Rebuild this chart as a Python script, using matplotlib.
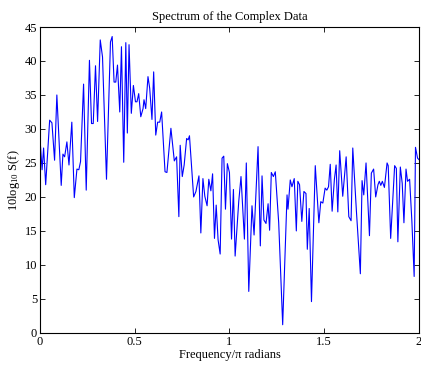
# Spectrum of complex data, MATLAB-style line plot

import matplotlib
matplotlib.use('Agg')
import matplotlib.pyplot as plt
import numpy as np

# values (frequency in units of pi, power in dB)
freq = [0.000, 0.011, 0.019, 0.030, 0.051, 0.063, 0.077, 0.089, 0.112, 0.121,
        0.130, 0.142, 0.153, 0.168, 0.181, 0.195, 0.205, 0.214, 0.230, 0.244,
        0.261, 0.272, 0.281, 0.293, 0.304, 0.318, 0.330, 0.351, 0.372, 0.381,
        0.391, 0.400, 0.409, 0.421, 0.430, 0.442, 0.453, 0.461, 0.470, 0.482,
        0.493, 0.504, 0.512, 0.521, 0.532, 0.544, 0.549, 0.558, 0.570, 0.579,
        0.591, 0.600, 0.611, 0.621, 0.632, 0.642, 0.660, 0.670, 0.691, 0.709,
        0.721, 0.733, 0.740, 0.751, 0.761, 0.774, 0.782, 0.789, 0.811, 0.823,
        0.839, 0.849, 0.860, 0.870, 0.882, 0.891, 0.902, 0.911, 0.921, 0.930,
        0.940, 0.951, 0.961, 0.970, 0.979, 0.989, 1.000, 1.011, 1.021, 1.030,
        1.049, 1.061, 1.079, 1.089, 1.102, 1.119, 1.130, 1.151, 1.163, 1.172,
        1.182, 1.193, 1.204, 1.212, 1.221, 1.232, 1.242, 1.260, 1.281, 1.304,
        1.309, 1.321, 1.330, 1.342, 1.353, 1.361, 1.370, 1.382, 1.393, 1.404,
        1.411, 1.421, 1.433, 1.453, 1.472, 1.482, 1.493, 1.505, 1.514, 1.523,
        1.532, 1.542, 1.554, 1.563, 1.572, 1.582, 1.598, 1.616, 1.630, 1.642,
        1.651, 1.670, 1.691, 1.700, 1.709, 1.721, 1.739, 1.749, 1.761, 1.772,
        1.784, 1.791, 1.799, 1.807, 1.818, 1.832, 1.838, 1.851, 1.872, 1.881,
        1.889, 1.902, 1.912, 1.921, 1.932, 1.940, 1.951, 1.963, 1.975, 1.982,
        1.993, 2.000]
power = [28.6, 24.0, 27.2, 21.8, 31.3, 30.9, 25.4, 35.0, 21.7, 26.3,
         25.9, 28.1, 24.7, 31.0, 19.9, 24.1, 24.0, 25.2, 36.6, 21.0,
         40.1, 30.8, 30.8, 39.3, 31.1, 43.1, 40.6, 22.6, 42.8, 43.6,
         36.9, 36.9, 39.4, 32.5, 42.1, 25.1, 42.7, 29.4, 42.4, 32.3,
         36.4, 34.0, 34.0, 35.2, 31.8, 33.0, 34.3, 33.0, 37.7, 36.0,
         31.4, 38.4, 29.1, 31.0, 31.0, 32.5, 23.7, 23.6, 30.1, 25.3,
         25.9, 17.1, 27.6, 23.0, 24.7, 28.6, 28.4, 29.0, 20.0, 20.8,
         23.1, 14.7, 22.7, 20.1, 18.7, 22.6, 20.9, 23.4, 13.9, 18.8,
         13.7, 11.6, 25.7, 26.0, 18.2, 24.9, 23.6, 13.8, 21.1, 11.3,
         19.3, 23.0, 13.8, 25.0, 6.1, 18.7, 14.4, 27.4, 12.8, 23.1,
         16.6, 16.1, 19.0, 15.1, 23.6, 23.0, 23.7, 16.2, 1.2, 20.3,
         18.2, 22.5, 21.5, 22.7, 15.0, 22.3, 21.8, 16.4, 20.8, 20.5,
         12.3, 18.3, 4.6, 24.6, 16.2, 19.3, 19.1, 21.3, 21.0, 21.5,
         24.8, 17.9, 22.6, 24.7, 17.8, 26.8, 20.1, 25.9, 17.1, 16.5,
         27.2, 18.0, 8.7, 22.4, 20.3, 25.0, 14.3, 23.5, 24.1, 20.0,
         21.8, 22.3, 21.7, 22.3, 21.4, 25.0, 24.6, 13.9, 24.6, 24.2,
         13.4, 24.4, 22.0, 16.2, 24.1, 22.3, 22.6, 16.4, 8.3, 27.3,
         25.7, 25.5]

xticks = [0, 0.5, 1, 1.5, 2]
xticklabels = ['0', '0.5', '1', '1.5', '2']
yticks = list(range(0, 50, 5))

plt.rcParams['font.family'] = ['Liberation Serif', 'DejaVu Serif']
plt.rcParams['mathtext.fontset'] = 'custom'
plt.rcParams['mathtext.rm'] = 'Liberation Serif'
plt.rcParams['mathtext.default'] = 'regular'
plt.rcParams['font.size'] = 9

fig = plt.figure(figsize=(4.21, 3.65), dpi=100)
ax = fig.add_axes([0.095, 0.088, 0.9, 0.838])

ax.plot(freq, power, color=(0, 0, 1), linewidth=0.8)

ax.set_xlim(0, 2)
ax.set_ylim(0, 45)
ax.set_xticks(xticks)
ax.set_xticklabels(xticklabels)
ax.set_yticks(yticks)
ax.tick_params(direction='in', top=True, right=True, length=3.5, width=0.6,
               labelsize=9, pad=2)
for sp in ax.spines.values():
    sp.set_linewidth(0.8)

ax.set_title('Spectrum of the Complex Data', fontsize=9, pad=5)
ax.set_xlabel('Frequency/\u03c0 radians', fontsize=9, labelpad=1)
ax.set_ylabel('10log$_{10}$ S(f)', fontsize=9, labelpad=2)

fig.savefig('out.png', dpi=100)
